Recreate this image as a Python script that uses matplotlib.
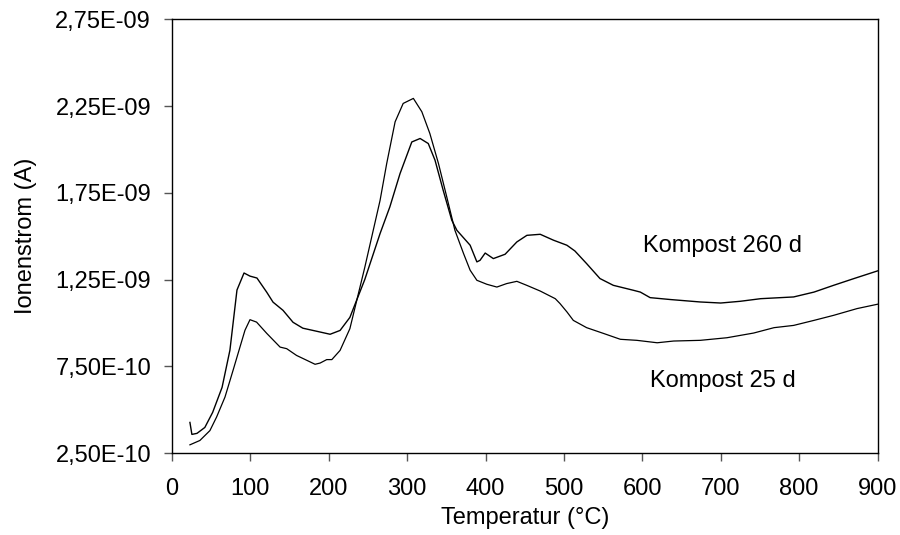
import matplotlib.pyplot as plt
from matplotlib.ticker import FuncFormatter

plt.rcParams['font.family'] = ['Liberation Sans', 'DejaVu Sans']

# Kompost 260 d  (temperature in °C, ion current in 1e-9 A)
t_260 = [23, 25.5, 32, 42, 52, 64, 74, 83, 92, 99.6, 108.5, 121, 129, 141.7, 154.5,
         167, 185, 201.8, 214.5, 227, 246, 265.5, 278, 291, 306, 316.6, 327, 335.6,
         346, 357, 363.5, 380.4, 389, 393, 399.6, 410, 425, 440, 452.8, 469.8, 486.7,
         503.8, 514, 529, 546, 563, 589, 597.5, 610, 636, 674, 700, 725, 751, 793,
         819, 844, 870, 900]
i_260 = [0.427, 0.358, 0.364, 0.398, 0.485, 0.629, 0.843, 1.19, 1.288, 1.27, 1.259,
         1.177, 1.12, 1.073, 1.004, 0.97, 0.952, 0.935, 0.957, 1.032, 1.25, 1.515,
         1.669, 1.861, 2.043, 2.063, 2.034, 1.938, 1.765, 1.592, 1.534, 1.448, 1.352,
         1.361, 1.403, 1.371, 1.396, 1.467, 1.505, 1.511, 1.477, 1.448, 1.415, 1.342,
         1.256, 1.217, 1.188, 1.178, 1.146, 1.135, 1.121, 1.115, 1.125, 1.14, 1.15,
         1.178, 1.217, 1.256, 1.30]

# Kompost 25 d
t_25 = [23, 35.7, 48.5, 57, 67.7, 78, 86.8, 93.2, 99.6, 108, 121, 138, 146.4, 159,
        172, 182.6, 189, 197.5, 204, 214.5, 227, 246, 265.5, 274, 284.7, 295, 308,
        318.8, 329, 340, 350.6, 361, 372, 380.4, 389, 401.7, 414.5, 427, 440, 452.6,
        469.8, 489, 495, 504, 512, 529, 551, 572, 593, 619, 640, 674, 708, 742, 768,
        793, 819, 844, 874, 900]
i_25 = [0.298, 0.323, 0.38, 0.458, 0.573, 0.727, 0.861, 0.958, 1.019, 1.005, 0.94,
        0.861, 0.852, 0.813, 0.785, 0.762, 0.769, 0.789, 0.789, 0.842, 0.967, 1.32,
        1.706, 1.919, 2.159, 2.265, 2.294, 2.217, 2.092, 1.919, 1.726, 1.534, 1.40,
        1.304, 1.246, 1.223, 1.207, 1.227, 1.24, 1.217, 1.184, 1.14, 1.112, 1.063,
        1.015, 0.973, 0.939, 0.906, 0.90, 0.886, 0.896, 0.90, 0.915, 0.942, 0.973,
        0.986, 1.015, 1.044, 1.083, 1.108]

y_ticks = [0.25e-9, 0.75e-9, 1.25e-9, 1.75e-9, 2.25e-9, 2.75e-9]
x_ticks = [0, 100, 200, 300, 400, 500, 600, 700, 800, 900]

fs = 17

fig = plt.figure(figsize=(9, 5.35), dpi=100)
ax = fig.add_axes([0.191, 0.153, 0.784, 0.811])

ax.plot(t_260, [v * 1e-9 for v in i_260], color='black', lw=1.0)
ax.plot(t_25, [v * 1e-9 for v in i_25], color='black', lw=0.9)

ax.set_xlim(0, 900)
ax.set_ylim(0.25e-9, 2.75e-9)
ax.set_xticks(x_ticks)
ax.set_yticks(y_ticks)
ax.yaxis.set_major_formatter(FuncFormatter(lambda v, p: ('%.2E' % v).replace('.', ',')))

ax.tick_params(axis='both', direction='out', length=6, width=1, color='#555555',
               labelsize=fs)
ax.tick_params(axis='y', pad=9)
ax.tick_params(axis='x', pad=12)
for s in ax.spines.values():
    s.set_linewidth(1.0)

ax.set_xlabel('Temperatur (°C)', fontsize=fs, labelpad=5)
ax.set_ylabel('Ionenstrom (A)', fontsize=fs, labelpad=13)

ax.text(601, 1.409e-9, 'Kompost 260 d', fontsize=fs, va='baseline', ha='left')
ax.text(610, 0.631e-9, 'Kompost 25 d', fontsize=fs, va='baseline', ha='left')

fig.savefig('out.png', dpi=100)
